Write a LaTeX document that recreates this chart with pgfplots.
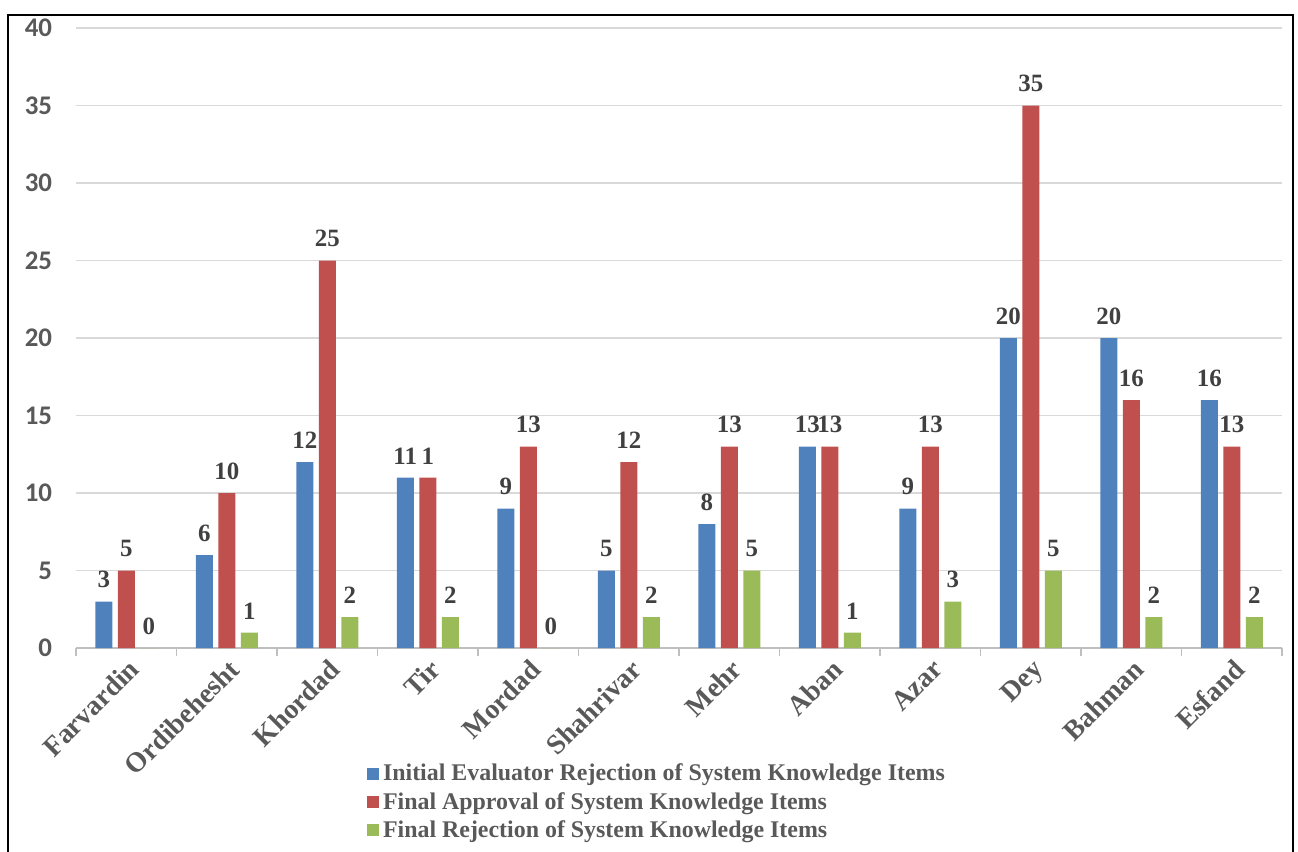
\documentclass[border=0pt]{standalone}
\usepackage{fontspec}
\setmainfont{Liberation Serif}
\newfontfamily\carlito{Carlito}
\usepackage{pgfplots}
\usepackage{pgfplotstable}
\pgfplotsset{compat=1.18}
\definecolor{cblue}{HTML}{4F81BD}
\definecolor{cred}{HTML}{C0504D}
\definecolor{cgreen}{HTML}{9BBB59}
\definecolor{lblgray}{HTML}{404040}
\definecolor{tickgray}{HTML}{595959}
\definecolor{gridgray}{HTML}{D9D9D9}
\definecolor{axisgray}{HTML}{BFBFBF}

\pgfplotstableread{
x month a la b lb c lc
0 Farvardin 3 3 5 5 0 0
1 Ordibehesht 6 6 10 10 1 1
2 Khordad 12 12 25 25 2 2
3 Tir 11 11 11 1 2 2
4 Mordad 9 9 13 13 0 0
5 Shahrivar 5 5 12 12 2 2
6 Mehr 8 8 13 13 5 5
7 Aban 13 13 13 13 1 1
8 Azar 9 9 13 13 3 3
9 Dey 20 20 35 35 5 5
10 Bahman 20 20 16 16 2 2
11 Esfand 16 16 13 13 2 2
}\datatable

\begin{document}
\begin{tikzpicture}
\begin{axis}[
  scale only axis,
  width=603bp, height=310bp,
  xmin=-0.5, xmax=11.5,
  ymin=0, ymax=40,
  ytick={0,5,...,40},
  ymajorgrids,
  grid style={gridgray, line width=0.8bp},
  axis x line*=bottom,
  axis y line*=left,
  y axis line style={draw=none},
  major y tick style={draw=none},
  x axis line style={axisgray, line width=0.8bp, -},
  xtick={0,...,11},
  xticklabels from table={\datatable}{month},
  major x tick style={draw=none},
  minor xtick={-0.5,0.5,...,11.5},
  minor x tick style={axisgray, line width=0.8bp},
  minor tick length=4bp,
  tick align=outside,
  xticklabel style={rotate=45, anchor=north east, font=\bfseries\fontsize{14}{16}\selectfont, text=tickgray, inner sep=2bp, xshift=2bp, yshift=1.5bp},
  yticklabel style={font=\carlito\bfseries\fontsize{13.5}{15}\selectfont, text=tickgray, inner sep=0pt, xshift=-7.5bp},
  /pgf/number format/assume math mode=true,
  ybar=2.75bp,
  bar width=8.5bp,
  nodes near coords,
  point meta=explicit symbolic,
  every node near coord/.append style={font=\bfseries\fontsize{12.5}{14}\selectfont, text=lblgray, inner sep=6.5bp},
  legend style={at={(axis description cs:0.241,-0.18)}, anchor=north west, draw=none, fill=none,
    font=\bfseries\fontsize{12}{13}\selectfont, text=tickgray, row sep=0.2bp, inner sep=0pt,
    /tikz/every even column/.append style={column sep=3bp}},
  legend cell align=left,
  clip=false,
]
\addplot[fill=cblue, draw=none, legend image code/.code={\fill[cblue] (0bp,-3bp) rectangle (6bp,3bp);}] table[x=x, y=a, meta=la]{\datatable};
\addplot[fill=cred, draw=none, legend image code/.code={\fill[cred] (0bp,-3bp) rectangle (6bp,3bp);}] table[x=x, y=b, meta=lb]{\datatable};
\addplot[fill=cgreen, draw=none, legend image code/.code={\fill[cgreen] (0bp,-3bp) rectangle (6bp,3bp);}] table[x=x, y=c, meta=lc]{\datatable};
\legend{Initial Evaluator Rejection of System Knowledge Items,Final Approval of System Knowledge Items,Final Rejection of System Knowledge Items}
\coordinate (O) at (rel axis cs:0,0);
\end{axis}
\draw[black, line width=1.2bp] ([shift={(-34bp,-110bp)}]O) -- ([shift={(-34bp,316.5bp)}]O) -- ([shift={(608.5bp,316.5bp)}]O) -- ([shift={(608.5bp,-110bp)}]O);
\pgfresetboundingbox
\path[use as bounding box] ([shift={(-38bp,-102bp)}]O) rectangle ([shift={(611bp,324bp)}]O);
\end{tikzpicture}
\end{document}
